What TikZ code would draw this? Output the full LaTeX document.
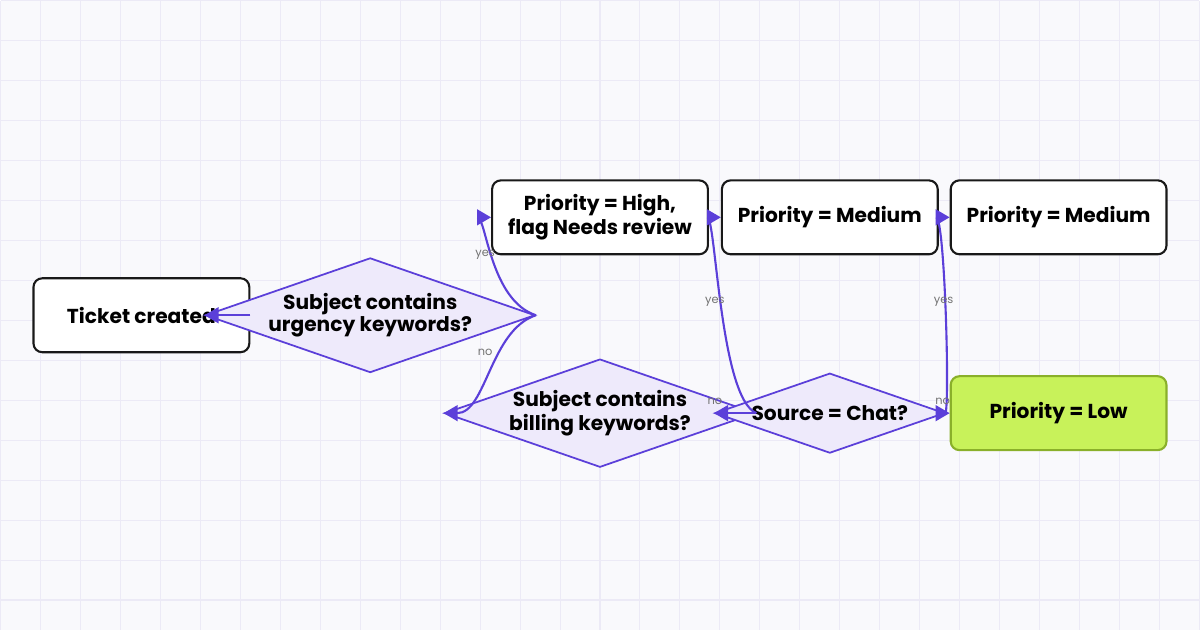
\documentclass[tikz,border=0pt]{standalone}
\usepackage{fontspec}
\setmainfont{Poppins}
\usetikzlibrary{positioning,shapes.geometric,arrows.meta,backgrounds}
\definecolor{gridc}{HTML}{ECEAF6}
\definecolor{bgc}{HTML}{F9F9FC}
\definecolor{edgec}{HTML}{5B3FD9}
\definecolor{decc}{HTML}{EEEAFB}
\definecolor{lowc}{HTML}{C8F25A}
\definecolor{lowb}{HTML}{8AB02A}
\tikzset{
  box/.style={rectangle, rounded corners=5pt, draw=black!90, line width=1.2pt, fill=white,
    minimum width=216*0.02cm, minimum height=74*0.02cm, align=center, inner sep=2pt,
    font=\bfseries\fontsize{11.5}{11}\selectfont},
  dec/.style={diamond, aspect=2.875, draw=edgec, line width=1pt, fill=decc, inner sep=0pt,
    minimum width=230*0.02cm, minimum height=80*0.02cm, align=center,
    font=\bfseries\fontsize{11.5}{10}\selectfont},
  flow/.style={draw=edgec, line width=1.2pt, -{Triangle[length=8pt,width=9pt]}},
  lbl/.style={font=\fontsize{6.5}{7}\selectfont, text=black!55, inner sep=1pt}
}
\begin{document}
\begin{tikzpicture}[x=0.02cm,y=-0.02cm]
  \fill[bgc] (0,0) rectangle (1200,630);
  \foreach \i in {0,40,...,1200} \draw[gridc,line width=0.6pt] (\i,0) -- (\i,630);
  \foreach \j in {0,40,...,630} \draw[gridc,line width=0.6pt] (0,\j) -- (1200,\j);
  \useasboundingbox (0,0) rectangle (1200,630);

  \node[box] (start) at (141,315) {Ticket created};
  \node[dec] (urgent) at (370,315) {Subject contains\\urgency keywords?};
  \node[box] (high) at (600,217) {Priority = High,\\flag Needs review};
  \node[dec] (billing) at (600,413) {Subject contains\\billing keywords?};
  \node[box] (med1) at (830,217) {Priority = Medium};
  \node[dec] (chat) at (830,413) {Source = Chat?};
  \node[box] (med2) at (1059,217) {Priority = Medium};
  \node[box, fill=lowc, draw=lowb] (low) at (1059,413) {Priority = Low};

  \draw[flow] (start) -- (urgent);
  \draw[flow] (urgent.east) .. controls (490,300) and (486,217) .. (high.west);
  \draw[flow] (urgent.east) .. controls (490,330) and (486,413) .. (billing.west);
  \draw[flow] (billing.east) .. controls (720,398) and (716,217) .. (med1.west);
  \draw[flow] (billing) -- (chat);
  \draw[flow] (chat.east) .. controls (950,398) and (945,217) .. (med2.west);
  \draw[flow] (chat) -- (low);

  \node[lbl] at (485,254) {yes};
  \node[lbl] at (485,352) {no};
  \node[lbl] at (715,302) {yes};
  \node[lbl] at (715,401) {no};
  \node[lbl] at (944,302) {yes};
  \node[lbl] at (943,401) {no};
\end{tikzpicture}
\end{document}
